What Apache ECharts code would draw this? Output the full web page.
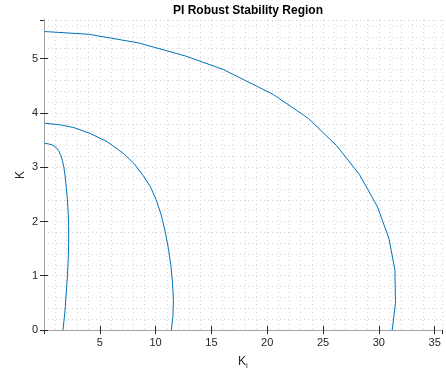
<!DOCTYPE html>
<html>
<head>
<meta charset="utf-8">
<script src="https://cdn.jsdelivr.net/npm/echarts@6/dist/echarts.min.js"></script>
<style>
  html, body { margin: 0; padding: 0; background: #fff; }
  #chart { width: 446px; height: 378px; }
</style>
</head>
<body>
<div id="chart"></div>
<script>
// boundary curves [Ki, K]
const innerCurve = [
  [0.07, 3.44], [0.4, 3.43], [0.75, 3.41], [1.05, 3.37], [1.3, 3.31], [1.5, 3.22],
  [1.65, 3.12], [1.78, 3.0], [1.9, 2.82], [2.0, 2.62], [2.1, 2.4], [2.17, 2.15],
  [2.21, 1.9], [2.21, 1.6], [2.17, 1.3], [2.1, 1.0], [2.0, 0.7], [1.88, 0.35], [1.7, 0]
]
const middleCurve = [
  [0.07, 3.81], [1.48, 3.78], [2.67, 3.73], [4.16, 3.62], [5.66, 3.47], [7.14, 3.25],
  [8.1, 3.06], [8.9, 2.84], [9.53, 2.64], [10.05, 2.4], [10.5, 2.12], [10.85, 1.82],
  [11.15, 1.5], [11.38, 1.17], [11.52, 0.85], [11.6, 0.55], [11.55, 0.25], [11.41, 0]
]
const outerCurve = [
  [0.07, 5.5], [4.01, 5.45], [8.49, 5.29], [12.67, 5.05], [16.07, 4.8], [20.55, 4.34],
  [23.68, 3.9], [26.21, 3.4], [28.25, 2.87], [29.88, 2.27], [30.9, 1.69], [31.44, 1.11],
  [31.49, 0.49], [31.2, 0]
]

const xMax = 35.66
const yMax = 5.713
const font = 'Liberation Sans, Arial, Helvetica, sans-serif'
const dark = '#262626'
const dotted = { show: true, lineStyle: { color: '#d4d4d4', width: 1, type: [1, 3] } }

const chart = echarts.init(document.getElementById('chart'))

const baseX = { type: 'value', min: 0, max: xMax }
const baseY = { type: 'value', min: 0, max: yMax }

chart.setOption({
  animation: false,
  title: {
    text: 'PI Robust Stability Region',
    left: 243,
    top: 0,
    textAlign: 'center',
    textStyle: { fontFamily: font, fontSize: 12, fontWeight: 'bold', color: '#000' }
  },
  grid: { left: 44, right: 4, top: 20, bottom: 48 },
  xAxis: [
    {
      ...baseX, position: 'bottom', interval: 5,
      name: '{a|K}{b|i}', nameLocation: 'middle', nameGap: 26,
      nameMoveOverlap: false,
      nameTextStyle: {
        rich: {
          a: { fontFamily: font, fontSize: 12, color: dark, lineHeight: 14, verticalAlign: 'top' },
          b: { fontFamily: font, fontSize: 8, color: dark, lineHeight: 12, verticalAlign: 'bottom' }
        }
      },
      axisLine: { lineStyle: { color: '#404040' } },
      axisTick: { inside: true, length: 4, lineStyle: { color: dark } },
      axisLabel: { fontFamily: font, fontSize: 11, color: dark, margin: 7, showMaxLabel: false, showMinLabel: false },
      splitLine: { show: false }
    },
    {
      ...baseX, position: 'top', interval: 5,
      axisLine: { lineStyle: { color: '#a0a0a0' } },
      axisTick: { inside: true, length: 4, lineStyle: { color: dark } },
      axisLabel: { show: false },
      splitLine: { show: false }
    },
    {
      ...baseX, position: 'bottom', interval: 1,
      axisLine: { show: false }, axisTick: { show: false }, axisLabel: { show: false },
      splitLine: dotted
    }
  ],
  yAxis: [
    {
      ...baseY, position: 'left', interval: 1,
      name: 'K', nameLocation: 'middle', nameGap: 17,
      nameMoveOverlap: false,
      nameTextStyle: { fontFamily: font, fontSize: 12, color: dark },
      axisLine: { lineStyle: { color: '#404040' } },
      axisTick: { inside: true, length: 4, lineStyle: { color: dark } },
      axisLabel: { fontFamily: font, fontSize: 11, color: dark, margin: 6, showMaxLabel: false },
      splitLine: { show: false }
    },
    {
      ...baseY, position: 'right', interval: 1,
      axisLine: { lineStyle: { color: '#a0a0a0' } },
      axisTick: { inside: true, length: 4, lineStyle: { color: dark } },
      axisLabel: { show: false },
      splitLine: { show: false }
    },
    {
      ...baseY, position: 'left', interval: 0.2,
      axisLine: { show: false }, axisTick: { show: false }, axisLabel: { show: false },
      splitLine: dotted
    }
  ],
  series: [innerCurve, middleCurve, outerCurve].map(d => ({
    type: 'line',
    data: d,
    xAxisIndex: 0,
    yAxisIndex: 0,
    showSymbol: false,
    lineStyle: { color: '#0072BD', width: 1 },
    z: 5
  }))
})
</script>
</body>
</html>
